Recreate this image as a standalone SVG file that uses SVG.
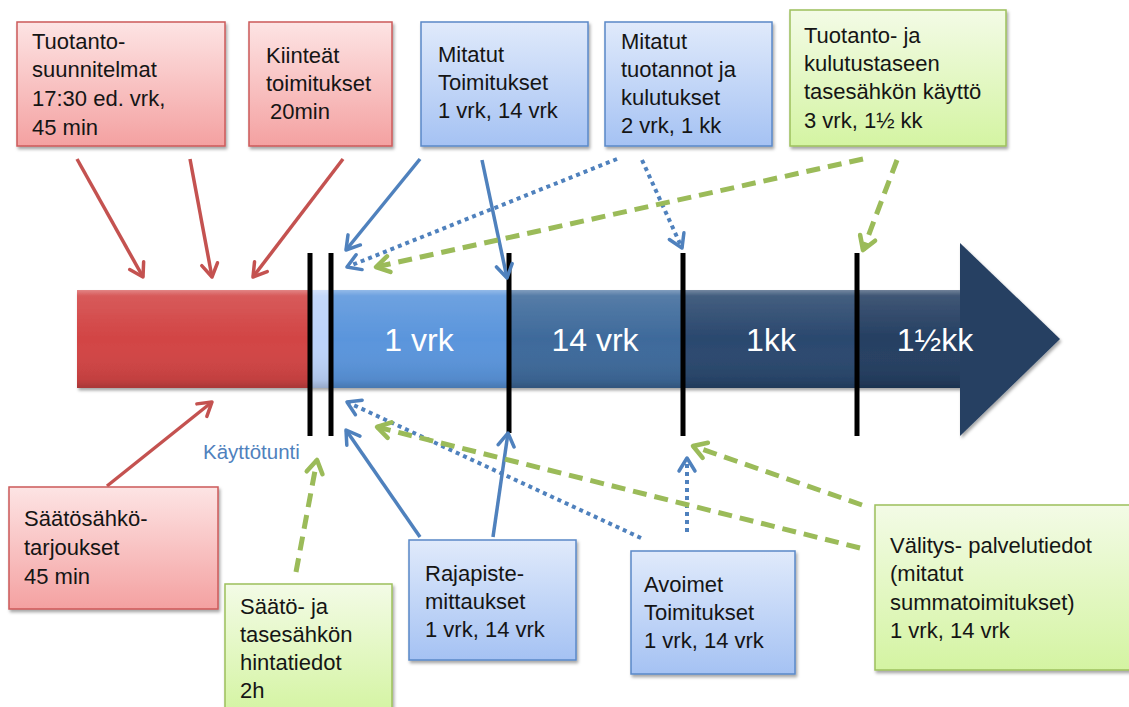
<svg xmlns="http://www.w3.org/2000/svg" width="1129" height="707" viewBox="0 0 1129 707">
  <style>
    .lbl { font-family: "Liberation Sans", Arial, sans-serif; font-size: 22px; fill: #151515; }
    .bar-lbl { font-family: "Liberation Sans", Arial, sans-serif; font-size: 32px; fill: #ffffff; text-anchor: middle; }
    .note { font-family: "Liberation Sans", Arial, sans-serif; font-size: 20.5px; fill: #4f81bd; }
    .box-red { fill: url(#gRed); stroke: #cc5a5a; stroke-width: 1.5; filter: url(#shadow); }
    .box-blue { fill: url(#gBlue); stroke: #5a88c8; stroke-width: 1.5; filter: url(#shadow); }
    .box-green { fill: url(#gGreen); stroke: #9dc05c; stroke-width: 1.5; filter: url(#shadow); }
    .tick { stroke: #000; stroke-width: 5; }
    .c-red { stroke: #c45250; stroke-width: 3.5; fill: none; marker-end: url(#mRed); }
    .c-blue { stroke: #4f81bd; stroke-width: 3.5; fill: none; marker-end: url(#mBlue); }
    .c-blue-dot { stroke: #4f81bd; stroke-width: 4; fill: none; stroke-dasharray: 4 4; marker-end: url(#mBlue); }
    .c-green { stroke: #9bbb59; stroke-width: 5; fill: none; stroke-dasharray: 14 8; marker-end: url(#mGreen); }
  </style>
  <defs>
    <linearGradient id="gRed" x1="0" y1="0" x2="0" y2="1">
      <stop offset="0" stop-color="#fde4e4"/>
      <stop offset="1" stop-color="#f4a1a1"/>
    </linearGradient>
    <linearGradient id="gBlue" x1="0" y1="0" x2="0" y2="1">
      <stop offset="0" stop-color="#e0eafb"/>
      <stop offset="1" stop-color="#a5c2f3"/>
    </linearGradient>
    <linearGradient id="gGreen" x1="0" y1="0" x2="0" y2="1">
      <stop offset="0" stop-color="#f3fbe6"/>
      <stop offset="1" stop-color="#d4f4a2"/>
    </linearGradient>
    <linearGradient id="gBevel" x1="0" y1="0" x2="0" y2="1">
      <stop offset="0" stop-color="#ffffff" stop-opacity="0.35"/>
      <stop offset="0.06" stop-color="#ffffff" stop-opacity="0.12"/>
      <stop offset="0.5" stop-color="#ffffff" stop-opacity="0"/>
      <stop offset="0.92" stop-color="#000000" stop-opacity="0.08"/>
      <stop offset="1" stop-color="#000000" stop-opacity="0.2"/>
    </linearGradient>
    <filter id="shadow" x="-10%" y="-10%" width="125%" height="130%">
      <feDropShadow dx="1.5" dy="2.5" stdDeviation="1.8" flood-color="#000" flood-opacity="0.35"/>
    </filter>
    <marker id="mRed" markerUnits="userSpaceOnUse" viewBox="-16 -16 32 32" markerWidth="32" markerHeight="32" refX="0" refY="0" orient="auto">
      <path d="M-13,-8 L0,0 L-13,8" fill="none" stroke="#c45250" stroke-width="3.5" stroke-linecap="round" stroke-linejoin="round"/>
    </marker>
    <marker id="mBlue" markerUnits="userSpaceOnUse" viewBox="-16 -16 32 32" markerWidth="32" markerHeight="32" refX="0" refY="0" orient="auto">
      <path d="M-13,-8 L0,0 L-13,8" fill="none" stroke="#4f81bd" stroke-width="3.5" stroke-linecap="round" stroke-linejoin="round"/>
    </marker>
    <marker id="mGreen" markerUnits="userSpaceOnUse" viewBox="-16 -16 32 32" markerWidth="32" markerHeight="32" refX="0" refY="0" orient="auto">
      <path d="M-13,-8 L0,0 L-13,8" fill="none" stroke="#9bbb59" stroke-width="4.5" stroke-linecap="round" stroke-linejoin="round"/>
    </marker>
  </defs>

  <rect width="1129" height="707" fill="#ffffff"/>

  <!-- timeline arrow -->
  <g id="timeline" filter="url(#shadow)">
    <rect x="77" y="290" width="233" height="98" fill="#d24444"/>
    <rect x="310" y="290" width="22" height="98" fill="#bcd3fa"/>
    <rect x="332" y="290" width="177" height="98" fill="#5a95dc"/>
    <rect x="509" y="290" width="174" height="98" fill="#3e6a9b"/>
    <rect x="683" y="290" width="175" height="98" fill="#2a486e"/>
    <rect x="858" y="290" width="104" height="98" fill="#253f62"/>
    <polygon points="960,243 1060,339 960,436" fill="#253f62"/>
    <rect x="77" y="290" width="883" height="98" fill="url(#gBevel)"/>
  </g>
  <g id="timeline-labels">
    <text class="bar-lbl" x="419" y="351">1 vrk</text>
    <text class="bar-lbl" x="595" y="351">14 vrk</text>
    <text class="bar-lbl" x="771" y="351">1kk</text>
    <text class="bar-lbl" x="935" y="351">1½kk</text>
  </g>
  <g id="ticks">
    <line class="tick" x1="310" y1="253" x2="310" y2="436"/>
    <line class="tick" x1="331" y1="253" x2="331" y2="436"/>
    <line class="tick" x1="509" y1="253" x2="509" y2="433"/>
    <line class="tick" x1="683" y1="253" x2="683" y2="436"/>
    <line class="tick" x1="857" y1="253" x2="857" y2="436"/>
  </g>
  <text id="kayttotunti" class="note" x="203" y="459">Käyttötunti</text>

  <!-- connectors -->
  <g id="connectors">
    <path class="c-red" d="M77,159 L143,277"/>
    <path class="c-red" d="M190,159 L212,277"/>
    <path class="c-red" d="M343,159 L253,277"/>
    <path class="c-red" d="M107,486 L212,402"/>

    <path class="c-blue" d="M420,159 L346,250"/>
    <path class="c-blue" d="M482,160 L507,278"/>
    <path class="c-blue" d="M420,537 L346,430"/>
    <path class="c-blue" d="M493,537 L508,433"/>

    <path class="c-blue-dot" d="M617,159 L347,267"/>
    <path class="c-blue-dot" d="M642,160 L682,248"/>
    <path class="c-blue-dot" d="M641,538 L347,402"/>
    <path class="c-blue-dot" d="M687,532 L687,458"/>

    <path class="c-green" d="M863,159 L376,267"/>
    <path class="c-green" d="M897,160 L863,250"/>
    <path class="c-green" d="M860,548 L377,427"/>
    <path class="c-green" d="M862,505 L693,446"/>
    <path class="c-green" d="M296,572 L317,460"/>
  </g>

  <!-- top boxes -->
  <g id="tuotantosuunnitelmat">
    <rect class="box-red" x="17" y="22" width="208" height="124"/>
    <text class="lbl" x="32" y="49">Tuotanto-</text>
    <text class="lbl" x="32" y="77">suunnitelmat</text>
    <text class="lbl" x="32" y="106">17:30 ed. vrk,</text>
    <text class="lbl" x="32" y="135">45 min</text>
  </g>
  <g id="kiinteat-toimitukset">
    <rect class="box-red" x="249" y="22" width="143" height="124"/>
    <text class="lbl" x="266" y="63">Kiinteät</text>
    <text class="lbl" x="266" y="91">toimitukset</text>
    <text class="lbl" x="270" y="119">20min</text>
  </g>
  <g id="mitatut-toimitukset">
    <rect class="box-blue" x="421" y="22" width="167" height="124"/>
    <text class="lbl" x="438" y="62">Mitatut</text>
    <text class="lbl" x="438" y="90">Toimitukset</text>
    <text class="lbl" x="438" y="118">1 vrk, 14 vrk</text>
  </g>
  <g id="mitatut-tuotannot">
    <rect class="box-blue" x="605" y="22" width="167" height="124"/>
    <text class="lbl" x="621" y="49">Mitatut</text>
    <text class="lbl" x="621" y="77">tuotannot ja</text>
    <text class="lbl" x="621" y="105">kulutukset</text>
    <text class="lbl" x="621" y="133">2 vrk, 1 kk</text>
  </g>
  <g id="tasesahko">
    <rect class="box-green" x="790" y="10" width="216" height="136"/>
    <text class="lbl" x="804" y="43">Tuotanto- ja</text>
    <text class="lbl" x="804" y="71">kulutustaseen</text>
    <text class="lbl" x="804" y="99">tasesähkön käyttö</text>
    <text class="lbl" x="804" y="128">3 vrk, 1½ kk</text>
  </g>

  <!-- bottom boxes -->
  <g id="saatosahkotarjoukset">
    <rect class="box-red" x="9" y="487" width="209" height="122"/>
    <text class="lbl" x="24" y="526">Säätösähkö-</text>
    <text class="lbl" x="24" y="555">tarjoukset</text>
    <text class="lbl" x="24" y="584">45 min</text>
  </g>
  <g id="hintatiedot">
    <rect class="box-green" x="225" y="584" width="167" height="130"/>
    <text class="lbl" x="240" y="614">Säätö- ja</text>
    <text class="lbl" x="240" y="642">tasesähkön</text>
    <text class="lbl" x="240" y="670">hintatiedot</text>
    <text class="lbl" x="240" y="698">2h</text>
  </g>
  <g id="rajapistemittaukset">
    <rect class="box-blue" x="409" y="540" width="167" height="120"/>
    <text class="lbl" x="425" y="581">Rajapiste-</text>
    <text class="lbl" x="425" y="609">mittaukset</text>
    <text class="lbl" x="425" y="637">1 vrk, 14 vrk</text>
  </g>
  <g id="avoimet-toimitukset">
    <rect class="box-blue" x="631" y="551" width="164" height="123"/>
    <text class="lbl" x="644" y="592">Avoimet</text>
    <text class="lbl" x="644" y="620">Toimitukset</text>
    <text class="lbl" x="644" y="648">1 vrk, 14 vrk</text>
  </g>
  <g id="valityspalvelutiedot">
    <rect class="box-green" x="875" y="505" width="262" height="165"/>
    <text class="lbl" x="890" y="553">Välitys- palvelutiedot</text>
    <text class="lbl" x="890" y="581">(mitatut</text>
    <text class="lbl" x="890" y="610">summatoimitukset)</text>
    <text class="lbl" x="890" y="638">1 vrk, 14 vrk</text>
  </g>
</svg>
